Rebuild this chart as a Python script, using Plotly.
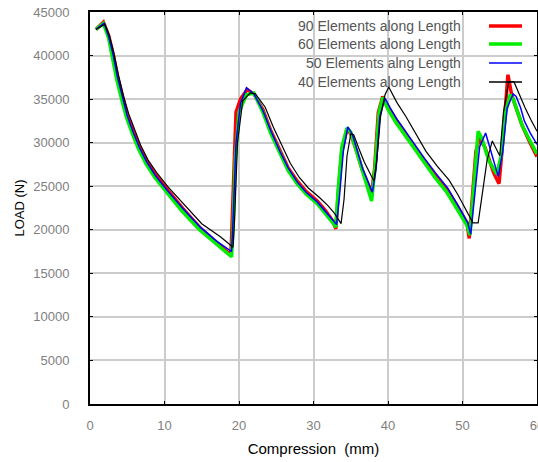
import plotly.graph_objects as go

# ---- data ----
x90 = [0.8, 1.8, 2.5, 3.1, 3.7, 4.4, 5.0, 5.8, 6.6, 7.6, 8.8, 10.3, 12.5, 14.8, 17.0, 18.9, 19.0, 19.3, 19.6, 20.2, 21.1, 22.0, 23.2, 24.3, 25.5, 26.6, 27.8, 29.0, 30.5, 31.6, 32.6, 33.0, 33.3, 33.8, 34.5, 35.0, 35.8, 36.5, 37.8, 38.2, 38.7, 39.3, 40.0, 41.0, 42.0, 43.3, 44.7, 46.3, 47.9, 49.3, 50.6, 50.9, 51.3, 51.8, 52.3, 53.0, 54.2, 54.9, 55.3, 55.8, 56.1, 56.6, 57.3, 58.0, 59.0, 60.0]
y90 = [43000, 43850, 42300, 40200, 37600, 35100, 33200, 31300, 29600, 27900, 26300, 24700, 22400, 20200, 18500, 17100, 19000, 26000, 33500, 35000, 36100, 35600, 33800, 31300, 29000, 27100, 25600, 24400, 23300, 22200, 21000, 20100, 24000, 29000, 31600, 31000, 29000, 27000, 24200, 27000, 33500, 35300, 34000, 32700, 31500, 29800, 28100, 26300, 24600, 22700, 20800, 19000, 23000, 29000, 30500, 29500, 26500, 25300, 29000, 34500, 37800, 35500, 33700, 32000, 30100, 28400]

x60 = [0.8, 1.8, 2.5, 3.0, 3.6, 4.3, 4.9, 5.7, 6.5, 7.5, 8.7, 10.2, 12.4, 14.7, 17.0, 19.0, 19.2, 19.5, 20.0, 21.0, 22.0, 23.2, 24.3, 25.5, 26.6, 27.8, 29.0, 30.5, 31.6, 32.6, 33.0, 33.3, 33.8, 34.5, 35.0, 35.8, 36.5, 37.8, 38.3, 38.8, 39.3, 40.0, 41.0, 42.0, 43.3, 44.7, 46.3, 47.9, 49.3, 50.6, 51.0, 51.5, 52.1, 52.6, 53.5, 54.6, 55.2, 55.8, 56.4, 56.8, 57.4, 58.0, 59.0, 60.0]
y60 = [43000, 43700, 42000, 39800, 37200, 34800, 32900, 31000, 29300, 27600, 26000, 24400, 22100, 20000, 18300, 16900, 20000, 28000, 33500, 35500, 35700, 33500, 31000, 28700, 26800, 25300, 24100, 23000, 21900, 20800, 20300, 24500, 29500, 31700, 31200, 29000, 26800, 23300, 27500, 33500, 35200, 33800, 32400, 31200, 29500, 27800, 26000, 24300, 22400, 20500, 19400, 25000, 31300, 30500, 28000, 26400, 28500, 33500, 35500, 35000, 33500, 32000, 30300, 28700]

x50 = [0.8, 1.9, 2.5, 3.1, 3.7, 4.4, 5.0, 5.8, 6.6, 7.6, 8.8, 10.3, 12.5, 14.8, 17.0, 19.0, 19.2, 19.6, 20.2, 21.0, 22.0, 23.2, 24.3, 25.5, 26.6, 27.8, 29.0, 30.5, 31.6, 32.6, 33.1, 33.5, 34.0, 34.6, 35.2, 35.9, 36.6, 37.9, 38.4, 38.9, 39.6, 40.3, 41.2, 42.2, 43.5, 44.9, 46.4, 48.0, 49.4, 50.7, 51.1, 51.6, 52.3, 53.1, 54.0, 54.8, 55.4, 56.0, 56.8, 57.2, 57.8, 58.3, 59.1, 60.0]
y50 = [43000, 43700, 42200, 40100, 37500, 35000, 33100, 31200, 29500, 27800, 26200, 24600, 22400, 20300, 18700, 17500, 21000, 30000, 34500, 36300, 35600, 33700, 31300, 29000, 27100, 25500, 24300, 23200, 22100, 21000, 20600, 24000, 29000, 31800, 31000, 29000, 27000, 24300, 27000, 33000, 35100, 34000, 32700, 31500, 29900, 28200, 26500, 24800, 22800, 20800, 19500, 24000, 29500, 31100, 28500, 26100, 29000, 34000, 35600, 35300, 34000, 32500, 31100, 29800]

x40 = [0.8, 2.0, 2.6, 3.2, 3.8, 4.5, 5.2, 6.0, 6.8, 7.8, 9.0, 10.5, 12.7, 15.0, 17.5, 19.2, 19.4, 19.8, 20.5, 21.5, 22.2, 23.5, 24.6, 25.8, 26.9, 28.1, 29.3, 30.8, 31.9, 32.8, 33.7, 34.1, 34.5, 35.0, 35.4, 36.1, 36.8, 38.1, 38.5, 39.0, 39.6, 40.1, 41.2, 42.4, 43.7, 45.1, 46.6, 48.2, 49.4, 50.4, 51.4, 52.1, 52.7, 53.3, 54.0, 54.6, 55.0, 55.5, 56.2, 56.9, 57.6, 58.4, 59.2, 60.0]
y40 = [43000, 43600, 42300, 40300, 37800, 35300, 33300, 31400, 29700, 28000, 26500, 24900, 22800, 20700, 19200, 18000, 21000, 30000, 34800, 35700, 35600, 34100, 31800, 29500, 27600, 26000, 24800, 23700, 22800, 21900, 20700, 23500, 28500, 31000, 30900, 29300, 27800, 25600, 28000, 33000, 35500, 36400, 34600, 33000, 31000, 29000, 27300, 25700, 24000, 22400, 20800, 20800, 24500, 28000, 30200, 29200, 28500, 33500, 37000, 37000, 35500, 34000, 32600, 31300]

names = ["90 Elements along Length", "60 Elements along Length",
         "50 Elements alng Length", "40 Elements along Length"]
colors = ["#ff0000", "#00ee00", "#0000ff", "#000000"]
widths = [3.5, 3.5, 1.5, 1.2]
xs = [x90, x60, x50, x40]
ys = [y90, y60, y50, y40]

FONT = "Liberation Sans, Arial"

fig = go.Figure()
for n, c, w, xx, yy in zip(names, colors, widths, xs, ys):
    fig.add_trace(go.Scatter(x=xx, y=yy, mode="lines", name=n,
                             line=dict(color=c, width=w), showlegend=False))

# legend drawn manually: text on left, sample line on right
L, R, T, B = 90, 537, 12, 404
W, H = R - L, B - T
rows = [26, 44, 63, 82]
for n, c, w, ry in zip(names, colors, widths, rows):
    yp = (B - ry) / H
    fig.add_annotation(xref="paper", yref="paper", x=(463 - L) / W, y=yp,
                       text=n, showarrow=False, xanchor="right", yanchor="middle",
                       font=dict(family=FONT, size=14, color="#555555"))
    fig.add_shape(type="line", xref="paper", yref="paper",
                  x0=(489 - L) / W, x1=(522 - L) / W, y0=yp, y1=yp,
                  line=dict(color=c, width=w if w > 2 else 1.5))

axis_common = dict(showgrid=True, gridcolor="#cccccc", gridwidth=1.5,
                   showline=True, linecolor="#000000", linewidth=2, mirror="ticks",
                   ticks="inside", ticklen=3, tickcolor="#000000",
                   zeroline=False, ticklabeloverflow="allow", automargin=False,
                   tickfont=dict(family=FONT, size=13, color="#808080"))

fig.update_xaxes(range=[0, 60], dtick=10, ticklabelstandoff=8, **axis_common,
                 title=dict(text="Compression  (mm)", standoff=12,
                            font=dict(family=FONT, size=15, color="#000000")))
fig.update_yaxes(range=[0, 45000], dtick=5000, tickformat="d", ticklabelstandoff=16,
                 **axis_common,
                 title=dict(text="LOAD (N)", standoff=6,
                            font=dict(family=FONT, size=13, color="#000000")))

fig.update_layout(width=538, height=462, plot_bgcolor="#ffffff", paper_bgcolor="#ffffff",
                  margin=dict(l=L, r=538 - R, t=T, b=462 - B), showlegend=False)

fig.write_html("out.html")
